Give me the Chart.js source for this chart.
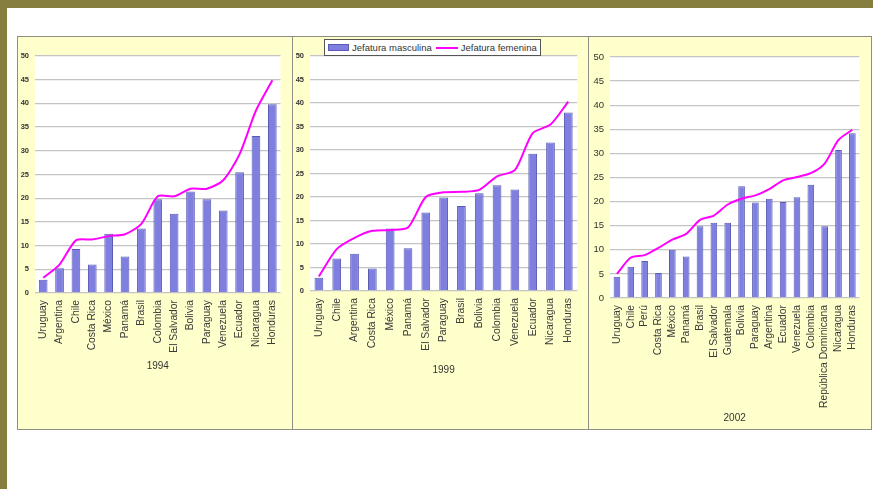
<!DOCTYPE html>
<html>
<head>
<meta charset="utf-8">
<style>
  body { margin: 0; background: #fff; width: 873px; height: 489px; overflow: hidden; position: relative; font-family: Arial, "Liberation Sans", sans-serif; }
  .frame-top { position: absolute; left: 0; top: 0; width: 873px; height: 8px; background: #857e3e; }
  .frame-left { position: absolute; left: 0; top: 0; width: 7px; height: 489px; background: #857e3e; }
  .panel { position: absolute; top: 36px; height: 394px; background: #ffffcb; border: 1.5px solid #8e8e86; box-sizing: border-box; }
  canvas { position: absolute; top: 36px; }
  .legend { position: absolute; left: 324px; top: 39px; width: 217px; height: 17px; background: #fff; border: 1px solid #555; box-sizing: border-box;
            display: flex; align-items: center; font-size: 9.5px; color: #333; white-space: nowrap; }
  .sw-bar { width: 21px; height: 7px; background: #7f7fe0; border: 1px solid #5a5ab4; box-sizing: border-box; margin: 0 3px 0 3px; }
  .sw-line { width: 22px; height: 2px; background: #ff00ff; margin: 0 3px 0 4px; }
</style>
</head>
<body>
<div class="frame-top"></div>
<div class="frame-left"></div>
<div class="panel" style="left:17px;width:276px"></div>
<div class="panel" style="left:292px;width:297px"></div>
<div class="panel" style="left:588px;width:284px"></div>

<canvas id="c1994" width="275" height="394" style="left:17px"></canvas>
<canvas id="c1999" width="296" height="394" style="left:292px"></canvas>
<canvas id="c2002" width="284" height="394" style="left:588px"></canvas>

<div class="legend">
  <span class="sw-bar"></span><span>Jefatura masculina</span>
  <span class="sw-line"></span><span>Jefatura femenina</span>
</div>

<script src="https://cdn.jsdelivr.net/npm/chart.js"></script>
<script>
  const yTicks = [0, 50, 5];

  const countries1994 = ['Uruguay', 'Argentina', 'Chile', 'Costa Rica', 'México', 'Panamá', 'Brasil', 'Colombia',
    'El Salvador', 'Bolivia', 'Paraguay', 'Venezuela', 'Ecuador', 'Nicaragua', 'Honduras'];
  const masculina1994 = [2.8, 5.2, 9.3, 6.0, 12.5, 7.7, 13.6, 19.8, 16.7, 21.4, 19.8, 17.4, 25.5, 33.1, 39.8];
  const femenina1994 = [3.2, 6.0, 11.1, 11.3, 12.0, 12.4, 14.6, 20.4, 20.4, 22.0, 22.0, 23.8, 29.3, 38.5, 44.9];

  const countries1999 = ['Uruguay', 'Chile', 'Argentina', 'Costa Rica', 'México', 'Panamá', 'El Salvador', 'Paraguay',
    'Brasil', 'Bolivia', 'Colombia', 'Venezuela', 'Ecuador', 'Nicaragua', 'Honduras'];
  const masculina1999 = [2.8, 6.9, 7.9, 4.8, 13.3, 9.1, 16.7, 19.9, 18.1, 20.8, 22.5, 21.6, 29.2, 31.6, 38.0];
  const femenina1999 = [3.1, 8.9, 11.3, 12.8, 13.0, 13.5, 20.0, 21.0, 21.1, 21.5, 24.4, 25.7, 33.6, 35.4, 40.3];

  const countries2002 = ['Uruguay', 'Chile', 'Perú', 'Costa Rica', 'México', 'Panamá', 'Brasil', 'El Salvador',
    'Guatemala', 'Bolivia', 'Paraguay', 'Argentina', 'Ecuador', 'Venezuela', 'Colombia', 'República Dominicana',
    'Nicaragua', 'Honduras'];
  const masculina2002 = [4.4, 6.5, 7.7, 5.2, 10.0, 8.6, 14.9, 15.6, 15.6, 23.2, 19.8, 20.6, 19.9, 20.9, 23.5, 14.9, 30.7, 34.2];
  const femenina2002 = [5.0, 8.4, 8.9, 10.4, 12.1, 13.3, 16.2, 17.1, 19.4, 20.6, 21.3, 22.6, 24.4, 25.1, 25.9, 27.9, 32.8, 34.9];

  // white plot area on the yellow panel
  const plotBg = {
    id: 'plotBg',
    beforeDraw(chart) {
      const { ctx, chartArea: a } = chart;
      ctx.save();
      ctx.fillStyle = '#ffffff';
      ctx.fillRect(a.left, a.top, a.right - a.left, a.bottom - a.top);
      ctx.restore();
    },
  };

  const font = 'Arial, "Liberation Sans", sans-serif';

  function makeChart(id, year, labels, masc, fem, opt) {
    return new Chart(document.getElementById(id), {
      type: 'bar',
      data: {
        labels: labels,
        datasets: [
          {
            type: 'line', label: 'Jefatura femenina', data: fem, order: 0,
            borderColor: '#ff00ff', borderWidth: 2, pointRadius: 0, tension: 0.25, fill: false,
          },
          {
            label: 'Jefatura masculina', data: masc, order: 1,
            backgroundColor: '#7f7fe0', borderColor: '#5a5ab4', borderWidth: 1,
            barPercentage: opt.barPct, categoryPercentage: 1,
          },
        ],
      },
      options: {
        responsive: false,
        animation: false,
        layout: { padding: opt.pad },
        plugins: { legend: { display: false }, tooltip: { enabled: false } },
        scales: {
          x: {
            grid: { display: false, drawTicks: false },
            border: { display: false },
            ticks: {
              autoSkip: false, minRotation: 90, maxRotation: 90, padding: 7,
              color: '#3a3a3a', font: { family: font, size: 10.3 },
            },
            title: {
              display: true, text: year, color: '#333', padding: { top: 4, bottom: 4 },
              font: { family: font, size: 10 },
            },
            afterFit: (s) => { s.height = opt.xH; },
          },
          y: {
            min: yTicks[0], max: yTicks[1],
            grid: { color: '#c4c4c4', lineWidth: 1.3, drawTicks: false },
            border: { display: false },
            ticks: { stepSize: yTicks[2], padding: 6, color: '#333', font: opt.yFont },
            afterFit: (s) => { s.width = opt.yW; },
          },
        },
      },
      plugins: [plotBg],
    });
  }

  makeChart('c1994', '1994', countries1994, masculina1994, femenina1994, {
    pad: { top: 20, right: 9, bottom: 54, left: 0 }, xH: 83, yW: 18, barPct: 0.53,
    yFont: { family: font, size: 7.5, weight: 'bold' },
  });
  makeChart('c1999', '1999', countries1999, masculina1999, femenina1999, {
    pad: { top: 20, right: 10, bottom: 50, left: 0 }, xH: 89, yW: 18, barPct: 0.49,
    yFont: { family: font, size: 7.5, weight: 'bold' },
  });
  makeChart('c2002', '2002', countries2002, masculina2002, femenina2002, {
    pad: { top: 21, right: 10, bottom: 2, left: 0 }, xH: 130, yW: 22, barPct: 0.48,
    yFont: { family: font, size: 9.5 },
  });
</script>
</body>
</html>
